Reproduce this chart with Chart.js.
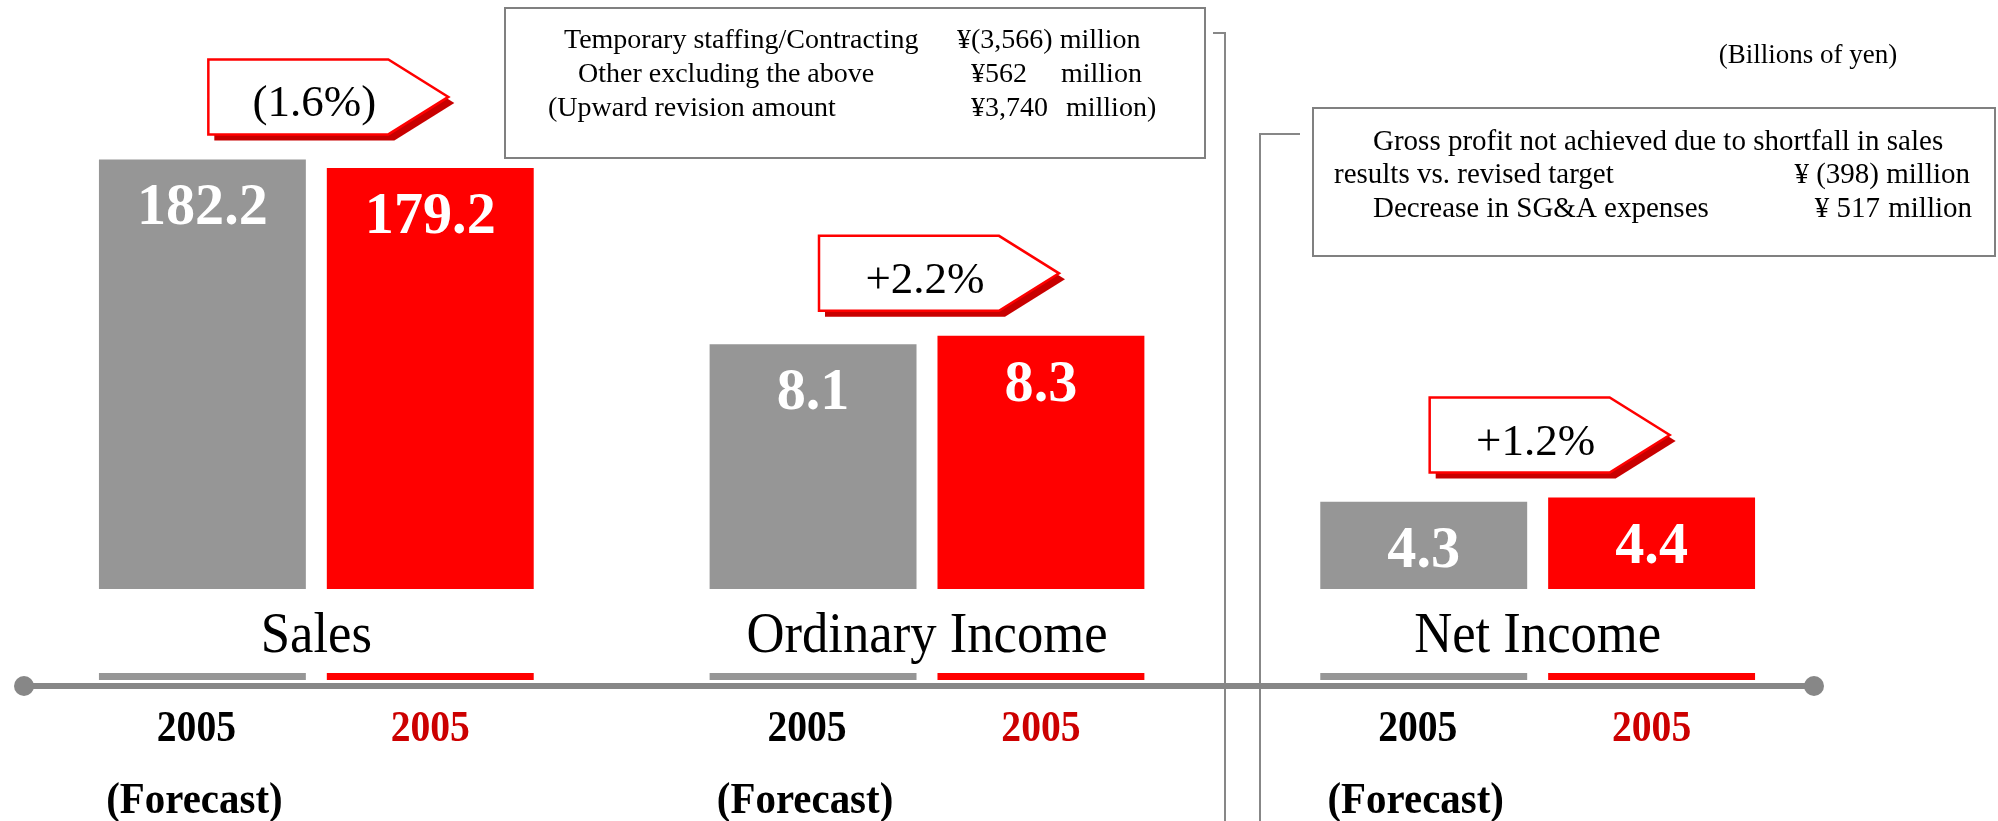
<!DOCTYPE html>
<html>
<head>
<meta charset="utf-8">
<script src="https://cdn.jsdelivr.net/npm/chart.js@4"></script>
<style>
  html, body { margin: 0; padding: 0; background: #ffffff; }
  canvas { display: block; }
</style>
</head>
<body>
<canvas id="chart" width="1998" height="821"></canvas>
<script>
// chart data (billions of yen)
const categories = ["Sales", "Ordinary Income", "Net Income"];
const forecast_values = [182.2, 8.1, 4.3];
const result_values = [179.2, 8.3, 4.4];
const change_labels = ["(1.6%)", "+2.2%", "+1.2%"];
const year_labels = ["2005", "2005"];
const forecast_label = "(Forecast)";
const unit_label = "(Billions of yen)";

// note boxes text
const note_1 = [
    ["Temporary staffing/Contracting", "\u00a5(3,566) million"],
    ["Other excluding the above", "\u00a5562", "million"],
    ["(Upward revision amount", "\u00a53,740", "million)"]
];
const note_2 = [
    ["Gross profit not achieved due to shortfall in sales"],
    ["results vs. revised target", "\u00a5 (398) million"],
    ["Decrease in SG&A expenses", "\u00a5 517", "million"]
];

const GRAY = "rgb(150, 150, 150)";
const RED = "rgb(255, 0, 0)";
const SERIF = '"Liberation Serif", "Times New Roman", serif';

// sales on its own scale, the two income rows share another one
var sales_forecast = [forecast_values[0], null, null];
var sales_result = [result_values[0], null, null];
var income_forecast = [null, forecast_values[1], forecast_values[2]];
var income_result = [null, result_values[1], result_values[2]];

// draw text, optionally squeezed horizontally like the condensed original
function draw_text(ctx, text, x, y, size, weight, color, align, squeeze) {
    ctx.save();
    ctx.font = weight + " " + size + "px " + SERIF;
    ctx.fillStyle = color;
    ctx.textAlign = align || "center";
    ctx.textBaseline = "alphabetic";
    ctx.translate(x, y);
    ctx.scale(squeeze || 1, 1);
    ctx.fillText(text, 0, 0);
    ctx.restore();
}

// pentagon callout with a dark red drop shadow
function draw_callout(ctx, left, top, text) {
    var w = 240, h = 75, body = 180;
    function shape(dx, dy) {
        ctx.beginPath();
        ctx.moveTo(left + dx, top + dy);
        ctx.lineTo(left + body + dx, top + dy);
        ctx.lineTo(left + w + dx, top + h / 2 + dy);
        ctx.lineTo(left + body + dx, top + h + dy);
        ctx.lineTo(left + dx, top + h + dy);
        ctx.closePath();
    }
    ctx.save();
    shape(6, 6);
    ctx.fillStyle = "rgb(200, 0, 0)";
    ctx.fill();
    shape(0, 0);
    ctx.fillStyle = "#ffffff";
    ctx.fill();
    ctx.lineWidth = 2.5;
    ctx.strokeStyle = RED;
    ctx.stroke();
    ctx.restore();
    draw_text(ctx, text, left + 106, top + 57, 45, "normal", "#000000", "center", 1);
}

var overlay = {
    id: "overlay",
    afterDatasetsDraw(chart) {
        var ctx = chart.ctx;
        var x_scale = chart.scales.x;
        var metas = [0, 1, 2, 3].map(i => chart.getDatasetMeta(i));

        // collect the bar pairs for each category
        var pairs = categories.map(function (c, i) {
            var meta_f = i == 0 ? metas[0] : metas[2];
            var meta_r = i == 0 ? metas[1] : metas[3];
            return [meta_f.data[i], meta_r.data[i]];
        });

        // value labels inside the bars
        pairs.forEach(function (p, i) {
            draw_text(ctx, forecast_values[i].toFixed(1), p[0].x, p[0].y + 65, 60, "bold", "#ffffff", "center", 0.97);
            draw_text(ctx, result_values[i].toFixed(1), p[1].x, p[1].y + 65, 60, "bold", "#ffffff", "center", 0.97);
        });

        // white break band across the bars
        ctx.save();
        ctx.fillStyle = "#ffffff";
        ctx.fillRect(0, 589, chart.width, 84);
        ctx.restore();

        // category names inside the band
        categories.forEach(function (c, i) {
            draw_text(ctx, c, x_scale.getPixelForValue(i), 652, 56, "normal", "#000000", "center", 0.94);
        });

        // baseline with round ends
        ctx.save();
        ctx.strokeStyle = "rgb(135, 135, 135)";
        ctx.fillStyle = "rgb(135, 135, 135)";
        ctx.lineWidth = 6;
        ctx.beginPath();
        ctx.moveTo(24, 686);
        ctx.lineTo(1814, 686);
        ctx.stroke();
        [24, 1814].forEach(function (cx) {
            ctx.beginPath();
            ctx.arc(cx, 686, 10, 0, Math.PI * 2);
            ctx.fill();
        });
        ctx.restore();

        // year labels under the bars
        pairs.forEach(function (p) {
            draw_text(ctx, year_labels[0], p[0].x - 6, 741, 44, "bold", "#000000", "center", 0.9);
            draw_text(ctx, year_labels[1], p[1].x, 741, 44, "bold", "rgb(204, 0, 0)", "center", 0.9);
            draw_text(ctx, forecast_label, p[0].x - 8, 813, 44, "bold", "#000000", "center", 0.93);
        });

        // change callouts above each pair
        pairs.forEach(function (p, i) {
            var top_bar = Math.min(p[0].y, p[1].y);
            draw_callout(ctx, x_scale.getPixelForValue(i) - 108, top_bar - 100, change_labels[i]);
        });

        // bracket lines
        ctx.save();
        ctx.strokeStyle = "rgb(135, 135, 135)";
        ctx.lineWidth = 2;
        ctx.beginPath();
        ctx.moveTo(1213, 33);
        ctx.lineTo(1225, 33);
        ctx.lineTo(1225, 821);
        ctx.moveTo(1300, 134);
        ctx.lineTo(1260, 134);
        ctx.lineTo(1260, 821);
        ctx.stroke();

        // note boxes
        ctx.lineWidth = 2;
        ctx.strokeStyle = "rgb(128, 128, 128)";
        ctx.strokeRect(505, 8, 700, 150);
        ctx.strokeRect(1313, 108, 682, 148);
        ctx.restore();

        draw_text(ctx, note_1[0][0], 564, 48, 28, "normal", "#000", "left");
        draw_text(ctx, note_1[0][1], 957, 48, 28, "normal", "#000", "left");
        draw_text(ctx, note_1[1][0], 578, 82, 28, "normal", "#000", "left");
        draw_text(ctx, note_1[1][1], 971, 82, 28, "normal", "#000", "left");
        draw_text(ctx, note_1[1][2], 1061, 82, 28, "normal", "#000", "left");
        draw_text(ctx, note_1[2][0], 548, 116, 28, "normal", "#000", "left");
        draw_text(ctx, note_1[2][1], 971, 116, 28, "normal", "#000", "left");
        draw_text(ctx, note_1[2][2], 1066, 116, 28, "normal", "#000", "left");

        draw_text(ctx, note_2[0][0], 1373, 150, 29, "normal", "#000", "left");
        draw_text(ctx, note_2[1][0], 1334, 183, 29, "normal", "#000", "left");
        draw_text(ctx, note_2[1][1], 1970, 183, 29, "normal", "#000", "right");
        draw_text(ctx, note_2[2][0], 1373, 217, 29, "normal", "#000", "left");
        draw_text(ctx, note_2[2][1], 1880, 217, 29, "normal", "#000", "right");
        draw_text(ctx, note_2[2][2], 1972, 217, 29, "normal", "#000", "right");

        draw_text(ctx, unit_label, 1808, 63, 27, "normal", "#000", "center");
    }
};

var chart = new Chart(document.getElementById("chart"), {
    type: "bar",
    data: {
        labels: categories,
        datasets: [
            { label: "Sales forecast", data: sales_forecast, yAxisID: "ySales", backgroundColor: GRAY },
            { label: "Sales result", data: sales_result, yAxisID: "ySales", backgroundColor: RED },
            { label: "Income forecast", data: income_forecast, yAxisID: "yIncome", backgroundColor: GRAY },
            { label: "Income result", data: income_result, yAxisID: "yIncome", backgroundColor: RED }
        ]
    },
    options: {
        responsive: false,
        animation: false,
        devicePixelRatio: 1,
        layout: { padding: { left: 11, right: 155, top: 0, bottom: 141 } },
        datasets: {
            bar: { skipNull: true, categoryPercentage: 0.7463, barPercentage: 0.908, borderWidth: 0 }
        },
        plugins: {
            legend: { display: false },
            tooltip: { enabled: false }
        },
        scales: {
            x: { display: false },
            ySales: { display: false, min: 0, max: 238 },
            yIncome: { display: false, min: 0, max: 16.4 }
        }
    },
    plugins: [overlay]
});
</script>
</body>
</html>
